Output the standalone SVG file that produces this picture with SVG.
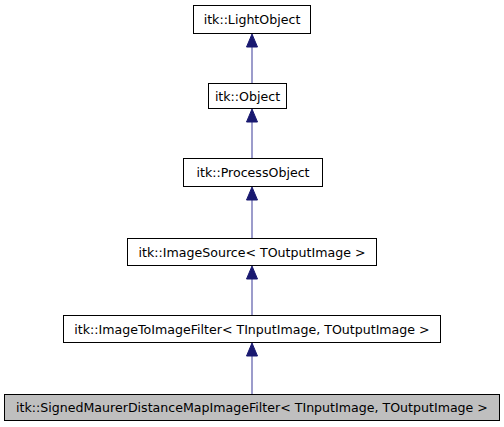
<svg xmlns="http://www.w3.org/2000/svg" width="504" height="427" viewBox="0 0 504 427">
<style>
.n rect{fill:#fff;stroke:#000;stroke-width:1}
.n text{font-family:"DejaVu Sans",sans-serif;font-size:12.6px;fill:#000;text-anchor:middle}
.e line{stroke:#5a5aa8;stroke-width:1.2}
.e polygon{fill:#191970;stroke:#191970}
</style>
<rect width="504" height="427" fill="#fff"/>
<g class="e" id="edges">
<line x1="252" y1="83" x2="252" y2="46"/><polygon points="252,34 246.5,47 257.5,47"/>
<line x1="252" y1="158" x2="252" y2="121"/><polygon points="252,109 246.5,122 257.5,122"/>
<line x1="252" y1="238" x2="252" y2="200"/><polygon points="252,187 246.5,200 257.5,200"/>
<line x1="252" y1="315" x2="252" y2="279"/><polygon points="252,266 246.5,279 257.5,279"/>
<line x1="252" y1="394" x2="252" y2="356"/><polygon points="252,343 246.5,356 257.5,356"/>
</g>
<g class="n" id="lightobject"><rect x="193.5" y="5.5" width="117" height="28"/><text x="252" y="24">itk::LightObject</text></g>
<g class="n" id="object"><rect x="208.5" y="83.5" width="78" height="25"/><text x="247.5" y="100.5">itk::Object</text></g>
<g class="n" id="processobject"><rect x="183.5" y="158.5" width="139" height="28"/><text x="253" y="177">itk::ProcessObject</text></g>
<g class="n" id="imagesource"><rect x="127.5" y="238.5" width="249" height="27"/><text x="252" y="256.5">itk::ImageSource&lt; TOutputImage &gt;</text></g>
<g class="n" id="imagetoimagefilter"><rect x="63.5" y="315.5" width="377" height="27"/><text x="252" y="333.5">itk::ImageToImageFilter&lt; TInputImage, TOutputImage &gt;</text></g>
<g class="n" id="signedmaurer"><rect x="4.5" y="394.5" width="495" height="26" style="fill:#bfbfbf"/><text x="252" y="412">itk::SignedMaurerDistanceMapImageFilter&lt; TInputImage, TOutputImage &gt;</text></g>
</svg>
